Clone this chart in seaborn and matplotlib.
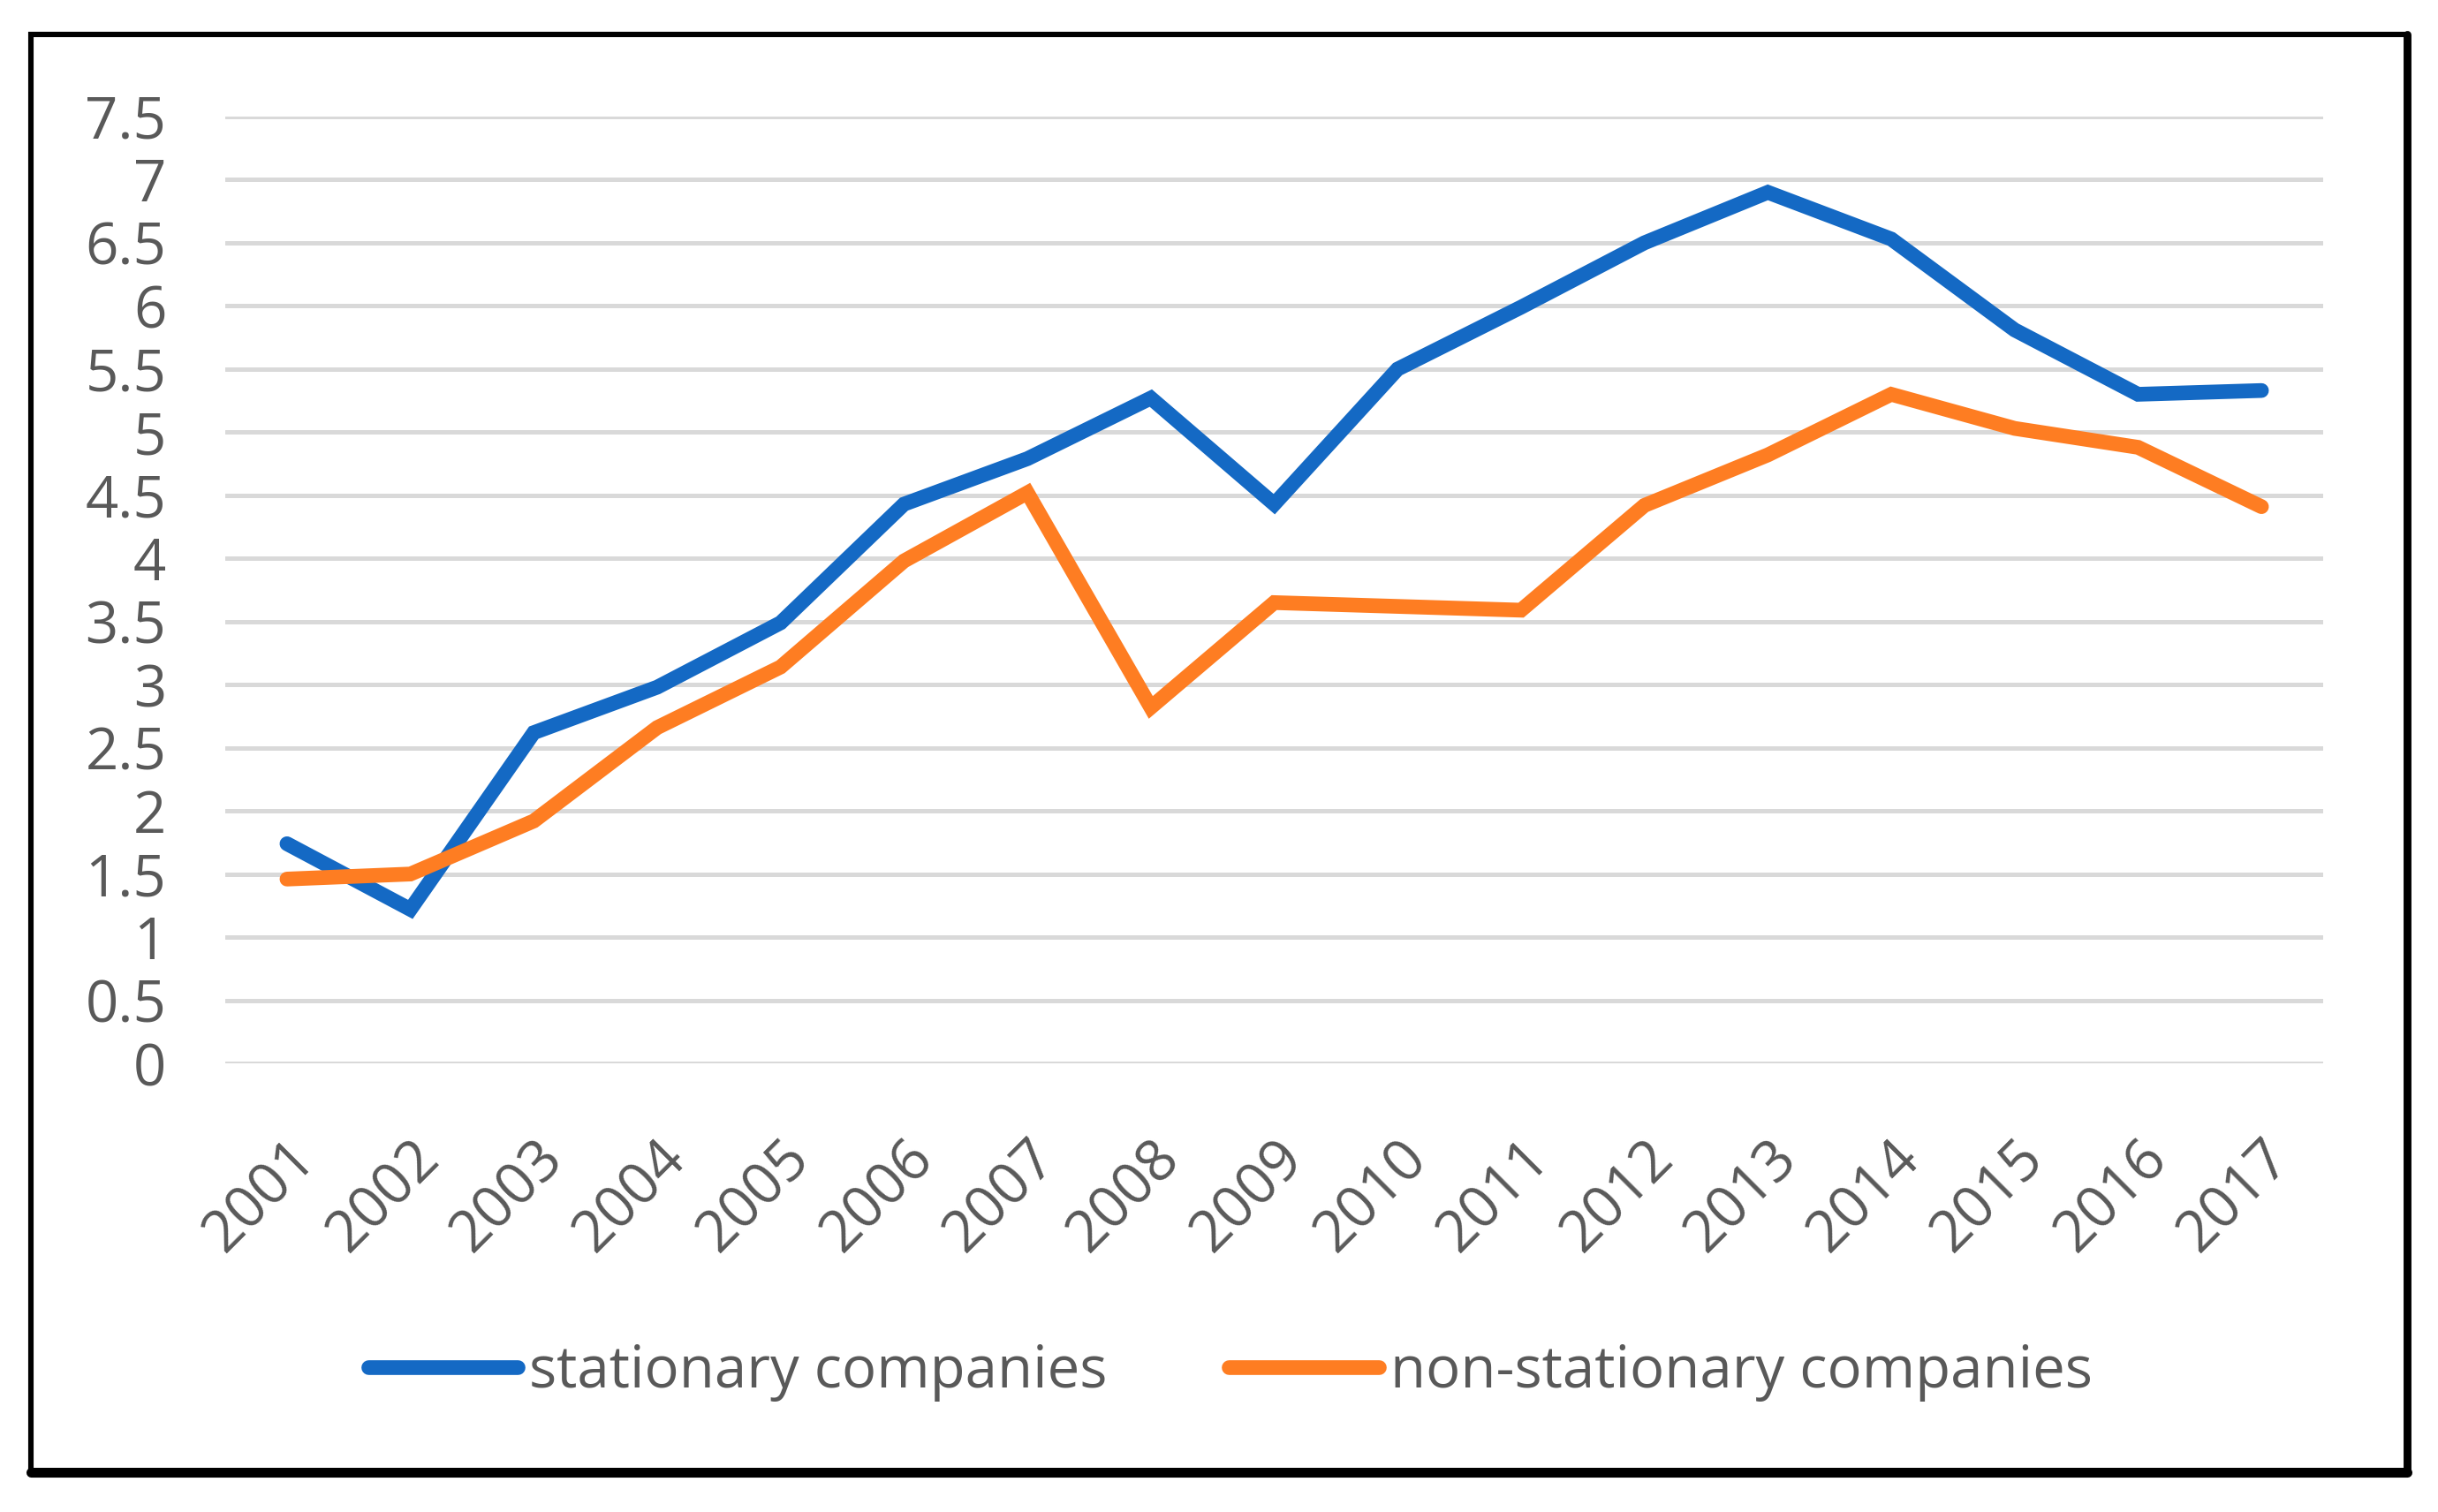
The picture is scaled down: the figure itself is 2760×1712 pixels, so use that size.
import matplotlib
matplotlib.use("Agg")
import matplotlib.pyplot as plt
import seaborn as sns
import pandas as pd
from matplotlib.patches import Rectangle
from matplotlib.lines import Line2D

years = list(range(2001, 2018))
stationary = [1.74, 1.22, 2.62, 2.98, 3.49, 4.43, 4.79, 5.27, 4.43, 5.50,
              5.99, 6.50, 6.90, 6.53, 5.81, 5.30, 5.33]
non_stationary = [1.46, 1.50, 1.92, 2.66, 3.14, 3.98, 4.52, 2.82, 3.65, 3.62,
                  3.59, 4.42, 4.82, 5.30, 5.03, 4.88, 4.41]
series_names = ["stationary companies", "non-stationary companies"]
colors = ["#1469c4", "#fe7d22"]
y_ticks = [0, 0.5, 1, 1.5, 2, 2.5, 3, 3.5, 4, 4.5, 5, 5.5, 6, 6.5, 7, 7.5]
y_tick_labels = ["0", "0.5", "1", "1.5", "2", "2.5", "3", "3.5", "4", "4.5",
                 "5", "5.5", "6", "6.5", "7", "7.5"]

df = pd.DataFrame({
    "year": years * 2,
    "value": stationary + non_stationary,
    "series": [series_names[0]] * len(years) + [series_names[1]] * len(years),
})

sns.set_theme(style="white")
plt.rcParams["font.family"] = ["Open Sans", "DejaVu Sans"]

fig = plt.figure(figsize=(13.8, 8.56), dpi=200)
ax = fig.add_axes([0.0924, 0.2967, 0.8605, 0.6262])

sns.lineplot(data=df, x="year", y="value", hue="series", palette=colors,
             hue_order=series_names, linewidth=6.0, ax=ax, legend=True,
             solid_capstyle="round", solid_joinstyle="miter")

ax.set_xlim(2000.5, 2017.5)
ax.set_ylim(0, 7.5)
ax.set_yticks(y_ticks)
ax.set_yticklabels(y_tick_labels)
ax.set_xticks(years)
ax.set_xticklabels([str(y) for y in years], rotation=45, ha="right",
                   rotation_mode="anchor")
ax.set_xlabel("")
ax.set_ylabel("")
ax.grid(axis="y", color="#d9d9d9", linewidth=1.8)
ax.grid(axis="x", visible=False)
ax.set_axisbelow(True)
for sp in ax.spines.values():
    sp.set_visible(False)
ax.tick_params(axis="y", labelsize=23.5, colors="#595959", length=0, pad=24)
ax.tick_params(axis="x", labelsize=23.5, colors="#595959", length=0, pad=27)

handles, labels = ax.get_legend_handles_labels()
ax.legend(handles, labels, loc="center", bbox_to_anchor=(0.479, -0.326),
          ncol=2, frameon=False, fontsize=23.5, handlelength=2.6,
          handletextpad=0.2, columnspacing=2.1, labelcolor="#595959")

# outer border with slightly heavier right/bottom edges
x0, x1 = 35 / 2760, 2725 / 2760
y0, y1 = 1 - 1667 / 1712, 1 - 39 / 1712
fig.patches.append(Rectangle((x0, y0), x1 - x0, y1 - y0,
                             transform=fig.transFigure, fill=False,
                             edgecolor="black", linewidth=2.2))
fig.lines.append(Line2D([x1, x1], [y0, y1], transform=fig.transFigure,
                        color="black", linewidth=3.2))
fig.lines.append(Line2D([x0, x1], [y0, y0], transform=fig.transFigure,
                        color="black", linewidth=4.0))

fig.savefig("out.png", dpi=200, facecolor="white")
